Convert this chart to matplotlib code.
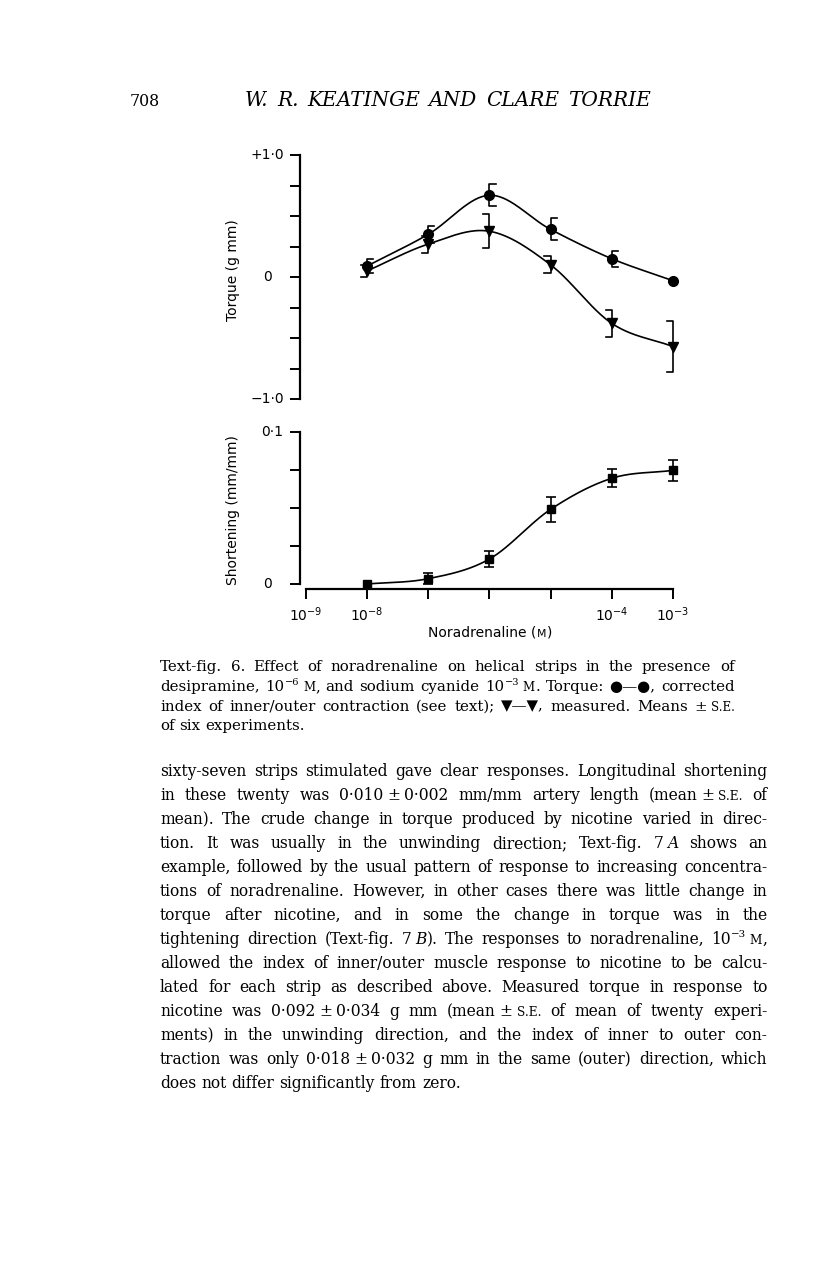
import numpy as np
import matplotlib
matplotlib.use('Agg')
import matplotlib.pyplot as plt

W, H = 816, 1264

# data
conc = [1e-8, 1e-7, 1e-6, 1e-5, 1e-4, 1e-3]
torque_corrected = [0.09, 0.35, 0.67, 0.39, 0.15, -0.03]
torque_corrected_se = [0.06, 0.07, 0.09, 0.09, 0.065, 0.0]
torque_measured = [0.05, 0.27, 0.375, 0.10, -0.38, -0.57]
torque_measured_se = [0.05, 0.07, 0.14, 0.07, 0.11, 0.21]
shortening = [0.0, 0.0035, 0.0164, 0.049, 0.0694, 0.0746]
shortening_se = [0.0, 0.0035, 0.005, 0.008, 0.006, 0.007]

x_ticks = [1e-9, 1e-8, 1e-7, 1e-6, 1e-5, 1e-4, 1e-3]
x_ticklabels = ['$10^{-9}$', '$10^{-8}$', '', '', '', '$10^{-4}$', '$10^{-3}$']
torque_ticks = [-1.0, -0.75, -0.5, -0.25, 0.0, 0.25, 0.5, 0.75, 1.0]
torque_labels = {1.0: '+1·0', 0.0: '0', -1.0: '−1·0'}
short_ticks = [0.0, 0.025, 0.05, 0.075, 0.1]
short_labels = {0.1: '0·1', 0.0: '0'}

header_num = '708'
header_title = '*W._R._KEATINGE_AND_CLARE_TORRIE*'

caption = [
    'Text-fig. 6. Effect of noradrenaline on helical strips in the presence of',
    'desipramine, 10^−6^_~m~, and sodium cyanide 10^−3^_~m~. Torque: ●—●, corrected',
    'index of inner/outer contraction (see text); ▼—▼, measured. Means ±_~s.e.~',
    'of six experiments.',
]
body = [
    'sixty-seven strips stimulated gave clear responses. Longitudinal shortening',
    'in these twenty was 0·010_±_0·002 mm/mm artery length (mean_±_~s.e.~ of',
    'mean). The crude change in torque produced by nicotine varied in direc-',
    'tion. It was usually in the unwinding direction; Text-fig. 7_*A* shows an',
    'example, followed by the usual pattern of response to increasing concentra-',
    'tions of noradrenaline. However, in other cases there was little change in',
    'torque after nicotine, and in some the change in torque was in the',
    'tightening direction (Text-fig. 7_*B*). The responses to noradrenaline, 10^−3^_~m~,',
    'allowed the index of inner/outer muscle response to nicotine to be calcu-',
    'lated for each strip as described above. Measured torque in response to',
    'nicotine was 0·092_±_0·034 g mm (mean_±_~s.e.~ of mean of twenty experi-',
    'ments) in the unwinding direction, and the index of inner to outer con-',
    'traction was only 0·018_±_0·032 g mm in the same (outer) direction, which',
    'does not differ significantly from zero.',
]

SERIF = ['DejaVu Serif', 'DejaVu Sans']
SANS = ['DejaVu Sans']

fig = plt.figure(figsize=(W / 100, H / 100), dpi=100)
fig.patch.set_facecolor('white')
renderer = fig.canvas.get_renderer()


def fx(x):
    return x / W


def fy(y):
    return 1 - y / H


def parse(word):
    marks = {'^': 'sup', '~': 'sc', '*': 'it'}
    runs, buf, mode = [], '', 'n'
    for ch in word:
        if ch in marks:
            if buf:
                runs.append((buf, mode))
            buf = ''
            mode = 'n' if mode == marks[ch] else marks[ch]
        elif ch == '_':
            if buf:
                runs.append((buf, mode))
            buf = ''
            runs.append(('', 'gap'))
        else:
            buf += ch
    if buf:
        runs.append((buf, mode))
    return runs


def draw_runs(x, y, runs, size, family, measure=False, gapw=0.22):
    x0 = x
    for s, mode in runs:
        if mode == 'gap':
            x += size * gapw * 100 / 72
            continue
        kw = dict(fontsize=size, family=family, va='baseline', ha='left')
        dy = 0
        if mode == 'sup':
            kw['fontsize'] = size * 0.66
            dy = size * 0.42 * 100 / 72
        elif mode == 'sc':
            kw['fontsize'] = size * 0.78
            s = s.upper()
        elif mode == 'it':
            kw['style'] = 'italic'
        t = fig.text(fx(x), fy(y - dy), s, **kw)
        w = t.get_window_extent(renderer).width
        if measure:
            t.remove()
        x += w + size * 0.04
    return x - x0


SPACE = 0.30


def natural_width(line, size, family, gapw=0.22):
    words = [parse(w) for w in line.split(' ')]
    ws = [draw_runs(0, 0, r, size, family, measure=True, gapw=gapw) for r in words]
    return sum(ws) + (len(words) - 1) * size * SPACE * 100 / 72


def fit_size(lines, width, base=10.0):
    nat = max(natural_width(l, base, SERIF) for l in lines)
    return base * width / nat


def draw_line(y, line, x0, x1, size, family, justify=True, gapw=0.22):
    words = [parse(w) for w in line.split(' ')]
    widths = [draw_runs(0, 0, r, size, family, measure=True, gapw=gapw) for r in words]
    if justify and len(words) > 1:
        gap = (x1 - x0 - sum(widths)) / (len(words) - 1)
    else:
        gap = size * SPACE * 100 / 72
    x = x0
    for r, w in zip(words, widths):
        draw_runs(x, y, r, size, family, gapw=gapw)
        x += w + gap


def smooth(xs, ys, n=40):
    lx = np.log10(xs)
    y = np.asarray(ys, dtype=float)
    m = np.gradient(y, lx)
    t = np.linspace(0, 1, n)
    h00 = 2 * t**3 - 3 * t**2 + 1
    h10 = t**3 - 2 * t**2 + t
    h01 = -2 * t**3 + 3 * t**2
    h11 = t**3 - t**2
    ox, oy = [], []
    for i in range(len(lx) - 1):
        h = lx[i + 1] - lx[i]
        ox.append(lx[i] + t * h)
        oy.append(h00 * y[i] + h10 * h * m[i] + h01 * y[i + 1] + h11 * h * m[i + 1])
    return 10 ** np.concatenate(ox), np.concatenate(oy)


def px_axes(left, top, right, bottom):
    return fig.add_axes([fx(left), fy(bottom), (right - left) / W, (bottom - top) / H])


XL = (10 ** -9.098, 10 ** -2.9)
LW = 1.2

# ---- torque panel
ax1 = px_axes(300, 155, 679, 399)
ax1.set_xscale('log')
ax1.set_xlim(*XL)
ax1.set_ylim(-1, 1)
for s in ['top', 'right', 'bottom']:
    ax1.spines[s].set_visible(False)
ax1.spines['left'].set_linewidth(1.6)
ax1.set_xticks([])
ax1.minorticks_off()
ax1.set_yticks(torque_ticks)
ax1.set_yticklabels([])
ax1.tick_params(axis='y', direction='out', length=7, width=1.4)
ax1.patch.set_alpha(0)

cx, cy = smooth(conc, torque_corrected)
ax1.plot(cx, cy, color='black', lw=LW, clip_on=False)
tx, ty = smooth(conc, torque_measured)
ax1.plot(tx, ty, color='black', lw=LW, clip_on=False)

cap = 10 ** 0.1
for x, y, e in zip(conc, torque_corrected, torque_corrected_se):
    if e > 0:
        ax1.plot([x * cap, x, x, x * cap], [y + e, y + e, y - e, y - e],
                 color='black', lw=1.2, clip_on=False)
for x, y, e in zip(conc, torque_measured, torque_measured_se):
    if e > 0:
        ax1.plot([x / cap, x, x, x / cap], [y + e, y + e, y - e, y - e],
                 color='black', lw=1.2, clip_on=False)
ax1.plot(conc, torque_corrected, 'o', color='black', ms=7, clip_on=False, zorder=5)
ax1.plot(conc, torque_measured, 'v', color='black', ms=7, clip_on=False, zorder=5)

ytr = ax1.get_yaxis_transform()
for v, lab in torque_labels.items():
    if lab == '0':
        ax1.text((267 - 300) / 379, v, lab, transform=ytr, ha='center', va='center',
                 fontsize=10, family=SANS)
    else:
        ax1.text((284 - 300) / 379, v, lab, transform=ytr, ha='right', va='center',
                 fontsize=10, family=SANS)

# ---- shortening panel
ax2 = px_axes(300, 431.7, 679, 584)
ax2.set_xscale('log')
ax2.set_xlim(*XL)
ax2.set_ylim(0, 0.1)
for s in ['top', 'right']:
    ax2.spines[s].set_visible(False)
ax2.spines['left'].set_linewidth(1.6)
ax2.spines['left'].set_bounds(0, 0.1)
ax2.spines['bottom'].set_linewidth(1.6)
ax2.spines['bottom'].set_position(('outward', 3.5))
ax2.spines['bottom'].set_bounds(1e-9, 1e-3)
ax2.set_yticks(short_ticks)
ax2.set_yticklabels([])
ax2.set_xticks(x_ticks)
ax2.set_xticklabels(x_ticklabels, fontsize=10)
ax2.minorticks_off()
ax2.tick_params(axis='both', direction='out', length=7, width=1.4)
ax2.tick_params(axis='x', pad=5)
ax2.patch.set_alpha(0)

sx, sy = smooth(conc, shortening)
ax2.plot(sx, sy, color='black', lw=LW, clip_on=False)
ax2.errorbar(conc[1:], shortening[1:], yerr=shortening_se[1:], fmt='none',
             ecolor='black', elinewidth=1.2, capsize=3.3, capthick=1.2, clip_on=False)
ax2.plot(conc, shortening, 's', color='black', ms=6, clip_on=False, zorder=5)

ytr2 = ax2.get_yaxis_transform()
for v, lab in short_labels.items():
    if lab == '0':
        ax2.text((267.5 - 300) / 379, v, lab, transform=ytr2, ha='center', va='center',
                 fontsize=10, family=SANS)
    else:
        ax2.text((283 - 300) / 379, v, lab, transform=ytr2, ha='right', va='center',
                 fontsize=10, family=SANS)

fig.text(fx(233), fy(270), 'Torque (g mm)', rotation=90, ha='center', va='center',
         fontsize=10, family=SANS)
fig.text(fx(233), fy(510), 'Shortening (mm/mm)', rotation=90, ha='center', va='center',
         fontsize=10, family=SANS)

xl_runs = parse('Noradrenaline (~m~)')
wlab = draw_runs(0, 0, xl_runs, 10, SANS, measure=True)
draw_runs(490 - wlab / 2, 637, xl_runs, 10, SANS)

# ---- page text
body_size = fit_size(body[:-1], 768 - 160 - 4)
cap_size = fit_size(caption[:-1], 735 - 160 - 4)
title_runs = parse(header_title)
title_size = 11.5 * 407 / draw_runs(0, 0, title_runs, 11.5, SERIF, measure=True, gapw=0.4)

draw_runs(130, 106, parse(header_num), body_size * 1.02, SERIF)
draw_runs(245, 106, title_runs, title_size, SERIF, gapw=0.4)

for i, line in enumerate(caption):
    draw_line(671 + 19.8 * i, line, 160, 735, cap_size, SERIF,
              justify=(i < len(caption) - 1))

for i, line in enumerate(body):
    draw_line(776 + 24 * i, line, 160, 768, body_size, SERIF,
              justify=(i < len(body) - 1))

fig.savefig('out.png', dpi=100, facecolor='white')
